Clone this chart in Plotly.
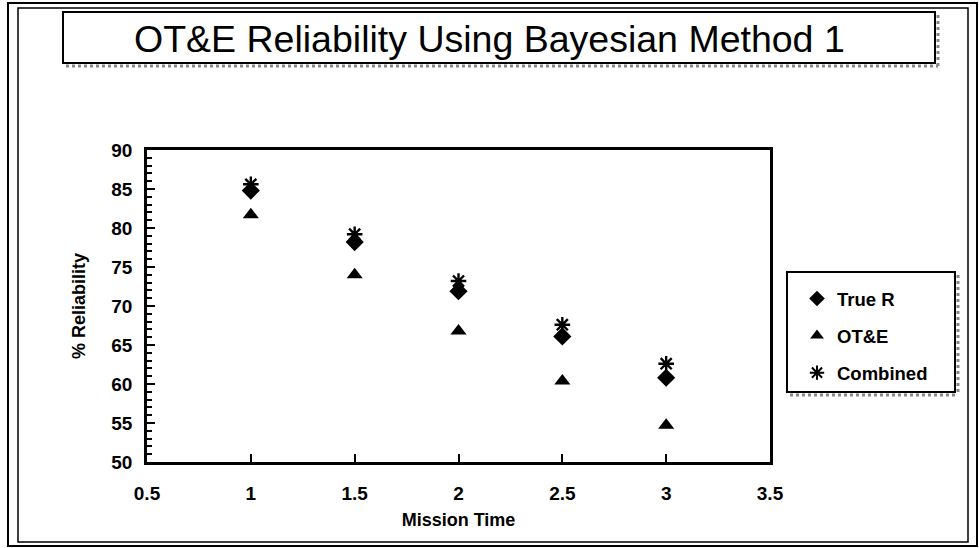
import plotly.graph_objects as go

# ---- data ----
mission_time = [1, 1.5, 2, 2.5, 3]
true_r = [84.8, 78.2, 71.9, 66.1, 60.8]
ote = [81.7, 74.0, 66.8, 60.4, 54.7]
combined = [85.6, 79.2, 73.2, 67.6, 62.6]
x_tick_vals = [0.5, 1, 1.5, 2, 2.5, 3, 3.5]
x_tick_text = ["0.5", "1", "1.5", "2", "2.5", "3", "3.5"]
y_tick_vals = [50, 55, 60, 65, 70, 75, 80, 85, 90]

W, H = 979, 548
L, R, T, B = 147, 770, 150, 462  # plot area in pixels
PW, PH = R - L, B - T

def px(x):
    return (x - L) / PW

def py(y):
    return (B - y) / PH

FONT = "Liberation Sans, Arial, sans-serif"

fig = go.Figure()
fig.add_trace(go.Scatter(x=mission_time, y=true_r, mode="markers", name="True R",
                         legendgroup="a",
                         marker=dict(symbol="diamond", size=14, color="black")))
fig.add_trace(go.Scatter(x=mission_time, y=ote, mode="markers", name="OT&E",
                         legendgroup="b",
                         marker=dict(symbol="triangle-up", size=14, color="black")))
fig.add_trace(go.Scatter(x=mission_time, y=combined, mode="markers", name="Combined",
                         legendgroup="c",
                         marker=dict(symbol="asterisk", size=13, color="black",
                                     line=dict(color="black", width=2.4))))

shapes = []

def rect(x0, y0, x1, y1, width=2, color="black", dash="solid"):
    shapes.append(dict(type="rect", xref="paper", yref="paper",
                       x0=px(x0), x1=px(x1), y0=py(y0), y1=py(y1),
                       line=dict(color=color, width=width, dash=dash),
                       fillcolor="rgba(0,0,0,0)", layer="above"))

def line(x0, y0, x1, y1, width=2, color="black", dash="solid"):
    shapes.append(dict(type="line", xref="paper", yref="paper",
                       x0=px(x0), x1=px(x1), y0=py(y0), y1=py(y1),
                       line=dict(color=color, width=width, dash=dash), layer="above"))

# outer frames
rect(8, 3, 977, 546, width=2)
rect(18, 8, 968, 542, width=1.5)
# title box with shadow
line(66, 66, 938, 66, width=3, color="#888888", dash="dot")
line(938, 15, 938, 66, width=3, color="#888888", dash="dot")
rect(63, 12, 935, 63, width=2)
# legend box with shadow
line(790, 395, 958, 395, width=3, color="#888888", dash="dot")
line(958, 275, 958, 395, width=3, color="#888888", dash="dot")
rect(787, 272, 955, 392, width=2)

fig.update_layout(
    width=W, height=H,
    margin=dict(l=L, r=W - R, t=T, b=H - B, pad=0),
    paper_bgcolor="white", plot_bgcolor="white",
    font=dict(family=FONT, color="black"),
    showlegend=True,
    legend=dict(x=px(797), y=py(280), xanchor="left", yanchor="top",
                bgcolor="rgba(0,0,0,0)", borderwidth=0,
                font=dict(size=18.5, family=FONT, weight="bold"),
                tracegroupgap=10, itemsizing="constant"),
    shapes=shapes,
    annotations=[dict(text="OT&E Reliability Using Bayesian Method 1",
                      xref="paper", yref="paper", x=px(489), y=py(39),
                      xanchor="center", yanchor="middle", showarrow=False,
                      font=dict(size=37.5, family=FONT, color="black"))],
)

fig.update_xaxes(range=[0.5, 3.5], tickvals=x_tick_vals, ticktext=x_tick_text,
                 ticks="inside", ticklen=8, tickwidth=2, tickcolor="black",
                 showline=True, linewidth=2.5, linecolor="black", mirror=True,
                 showgrid=False, zeroline=False, ticklabelstandoff=12,
                 tickfont=dict(size=19, family=FONT, weight="bold"),
                 title=dict(text="Mission Time", standoff=11,
                            font=dict(size=18, family=FONT, weight="bold")))
fig.update_yaxes(range=[50, 90], tickvals=y_tick_vals,
                 ticks="inside", ticklen=8, tickwidth=2, tickcolor="black",
                 minor=dict(dtick=1, ticks="inside", ticklen=5, tickwidth=1.5,
                            tickcolor="black", showgrid=False),
                 showline=True, linewidth=2.5, linecolor="black", mirror=True,
                 showgrid=False, zeroline=False, ticklabelstandoff=8,
                 tickfont=dict(size=19, family=FONT, weight="bold"),
                 title=dict(text="% Reliability", standoff=22,
                            font=dict(size=18, family=FONT, weight="bold")))

fig.write_html("out.html", config={"displayModeBar": False},
               post_script="document.body.style.margin='0';document.body.style.overflow='hidden';")
